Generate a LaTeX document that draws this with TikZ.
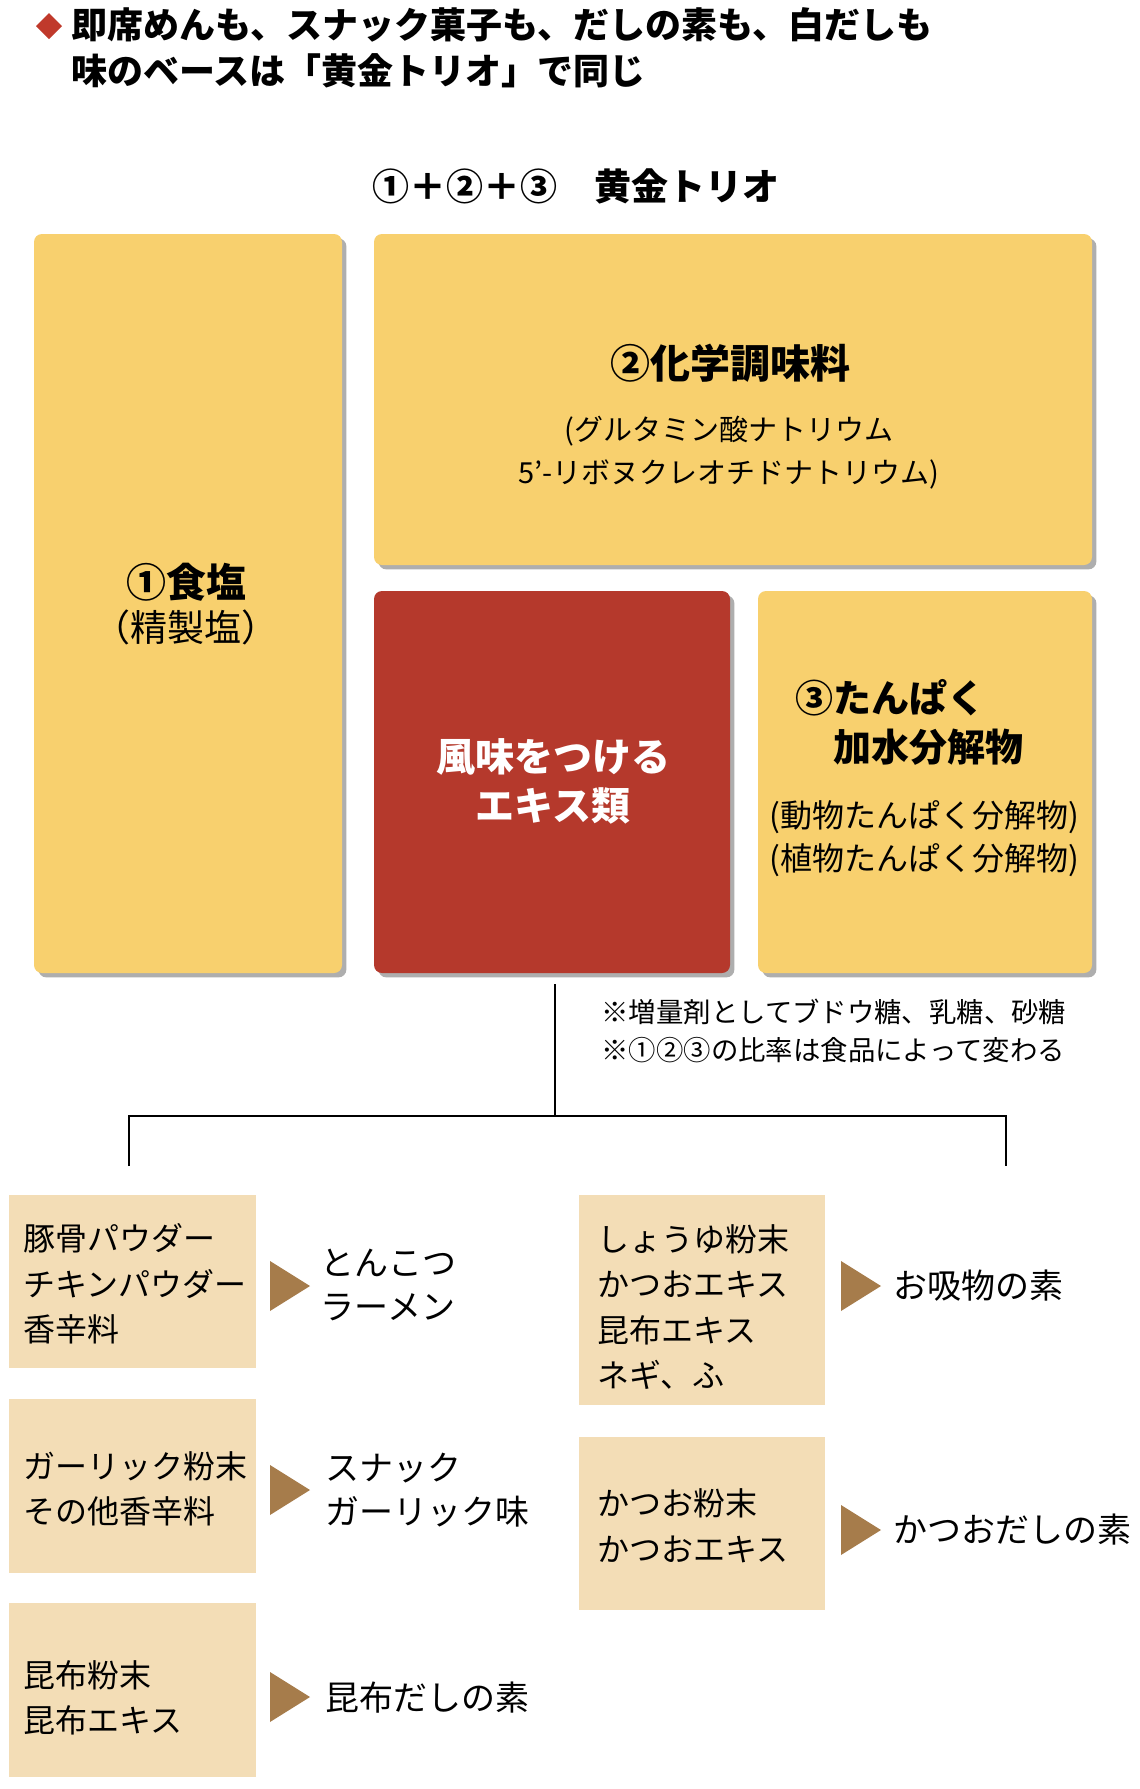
\documentclass[tikz,border=0pt]{standalone}
\usepackage{fontspec}
\setmainfont{Noto Sans CJK JP}
\usetikzlibrary{fit,shadows}
\definecolor{ygold}{HTML}{F8D06E}
\definecolor{rbrick}{HTML}{B5392C}
\definecolor{tanbox}{HTML}{F3DDB6}
\definecolor{arrowbrown}{HTML}{A67C4B}
\definecolor{diamondred}{HTML}{C0392B}
\begin{document}
\begin{tikzpicture}[x=0.5pt,y=-0.5pt,
  sh/.style={drop shadow={shadow xshift=2.2pt,shadow yshift=-2.2pt,fill=black!45,opacity=0.7}},
  ybox/.style={fill=ygold,rounded corners=4pt,inner sep=0pt,sh},
  rbox/.style={fill=rbrick,rounded corners=4pt,inner sep=0pt,sh},
  tbox/.style={fill=tanbox,inner sep=0pt},
  head/.style={font=\fontsize{20pt}{24pt}\selectfont\bfseries,inner sep=0pt},
  sub/.style={font=\fontsize{16pt}{21.5pt}\selectfont,inner sep=0pt,align=center},
  itemtxt/.style={font=\fontsize{16pt}{22.75pt}\selectfont,inner sep=0pt,align=left,anchor=west},
  lbl/.style={font=\fontsize{17pt}{22pt}\selectfont,inner sep=0pt,align=left,anchor=west},
  tri/.style={fill=arrowbrown},
  treeline/.style={line width=1.2pt,black}]
\useasboundingbox (0,0) rectangle (1140,1789);
\fill[white] (0,0) rectangle (1140,1789);

% title
\fill[diamondred] (49,13) -- (62,26) -- (49,39) -- (36,26) -- cycle;
\node[anchor=west,align=left,inner sep=0pt,font=\fontsize{18pt}{23pt}\selectfont\bfseries] (title) at (71,48)
  {即席めんも、スナック菓子も、だしの素も、白だしも\\味のベースは「黄金トリオ」で同じ};

\node[inner sep=0pt,font=\fontsize{18.5pt}{22pt}\selectfont\bfseries] (trio) at (576,186) {①＋②＋③\quad 黄金トリオ};

% top boxes
\node[ybox,fit={(34,234)(342,973)}] (b1) {};
\node[ybox,fit={(374,234)(1092,565)}] (b2) {};
\node[rbox,fit={(374,591)(730,973)}] (red) {};
\node[ybox,fit={(758,591)(1092,973)}] (b3) {};

\node[head] (b1t) at (186,582) {①食塩};
\node[sub,font=\fontsize{18.5pt}{22pt}\selectfont] (b1s) at (186,627) {（精製塩）};

\node[head] (b2t) at (730,363) {②化学調味料};
\node[sub,font=\fontsize{14.5pt}{21.5pt}\selectfont] (b2s) at (729,453) {(グルタミン酸ナトリウム\\5'-リボヌクレオチドナトリウム)};

\node[head,text=white,align=center,font=\fontsize{19.5pt}{24.5pt}\selectfont\bfseries] (redt) at (553,781) {風味をつける\\エキス類};

\node[head,anchor=west,font=\fontsize{19pt}{24pt}\selectfont\bfseries] (b3t) at (795,698) {③たんぱく};
\node[head,anchor=west,font=\fontsize{19pt}{24pt}\selectfont\bfseries] (b3u) at (833,747) {加水分解物};
\node[sub] (b3s) at (924,839) {(動物たんぱく分解物)\\(植物たんぱく分解物)};

% notes
\node[anchor=west,align=left,inner sep=0pt,font=\fontsize{13.7pt}{19pt}\selectfont] (notes) at (601,1031)
  {※増量剤としてブドウ糖、乳糖、砂糖\\※①②③の比率は食品によって変わる};

% tree lines
\coordinate (st) at (555,984);
\coordinate (jn) at (555,1116);
\coordinate (jl) at (129,1116);
\coordinate (jr) at (1006,1116);
\coordinate (el) at (129,1166);
\coordinate (er) at (1006,1166);
\draw[treeline] (st) -- (jn);
\draw[treeline] (el) -- (jl) -- (jr) -- (er);

% bottom boxes
\node[tbox,fit={(9,1195)(256,1368)}] (l1) {};
\node[tbox,fit={(9,1399)(256,1573)}] (l2) {};
\node[tbox,fit={(9,1603)(256,1777)}] (l3) {};
\node[tbox,fit={(579,1195)(825,1405)}] (r1) {};
\node[tbox,fit={(579,1437)(825,1610)}] (r2) {};

\node[itemtxt] (l1t) at (23,1284) {豚骨パウダー\\チキンパウダー\\香辛料};
\node[itemtxt] (l2t) at (23,1489) {ガーリック粉末\\その他香辛料};
\node[itemtxt] (l3t) at (23,1698) {昆布粉末\\昆布エキス};
\node[itemtxt] (r1t) at (597,1307) {しょうゆ粉末\\かつおエキス\\昆布エキス\\ネギ、ふ};
\node[itemtxt] (r2t) at (597,1526) {かつお粉末\\かつおエキス};

% arrows
\fill[tri] (270,1261) -- (310,1286) -- (270,1311) -- cycle;
\fill[tri] (270,1465) -- (310,1490) -- (270,1515) -- cycle;
\fill[tri] (270,1672) -- (310,1697) -- (270,1722) -- cycle;
\fill[tri] (841,1261) -- (881,1286) -- (841,1311) -- cycle;
\fill[tri] (841,1505) -- (881,1530) -- (841,1555) -- cycle;

% labels
\node[lbl] (p1) at (320,1285) {とんこつ\\ラーメン};
\node[lbl] (p2) at (325,1490) {スナック\\ガーリック味};
\node[lbl] (p3) at (325,1698) {昆布だしの素};
\node[lbl] (p4) at (893,1286) {お吸物の素};
\node[lbl] (p5) at (893,1530) {かつおだしの素};
\end{tikzpicture}
\end{document}
